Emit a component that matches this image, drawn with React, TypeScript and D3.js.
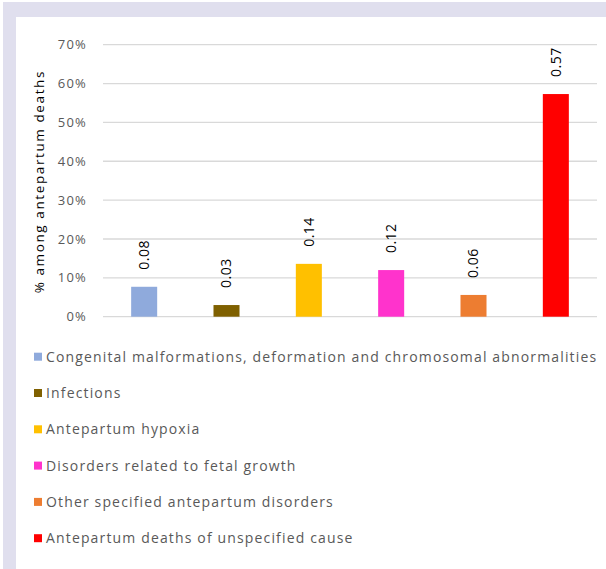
import React from "react";
import * as d3 from "d3";

const categories = [
  "Congenital malformations, deformation and chromosomal abnormalities",
  "Infections",
  "Antepartum hypoxia",
  "Disorders related to fetal growth",
  "Other specified antepartum disorders",
  "Antepartum deaths of unspecified cause",
];
const values = [0.077, 0.03, 0.136, 0.12, 0.056, 0.573];
const colors = ["#8faadc", "#7f6000", "#ffc000", "#ff33cc", "#ed7d31", "#ff0000"];
const yTicks = [0, 0.1, 0.2, 0.3, 0.4, 0.5, 0.6, 0.7];
const yTitle = "% among antepartum deaths";

const W = 606;
const H = 569;
const FONT = "'Open Sans', 'DejaVu Sans', sans-serif";

export default function App() {
  const x = d3
    .scaleBand<string>()
    .domain(categories)
    .range([103, 597])
    .paddingInner(0.684)
    .paddingOuter(0.342);
  const y = d3.scaleLinear().domain([0, 0.7]).range([316.7, 44.7]);
  const pct = d3.format(".0%");
  const lab = d3.format(".2f");

  return (
    <svg
      width={W}
      height={H}
      style={{ position: "absolute", left: 0, top: 0, background: "#fff" }}
      fontFamily={FONT}
    >
      <rect x={3} y={2} width={W - 3} height={15} fill="#e0dfee" />
      <rect x={3} y={2} width={13} height={H - 2} fill="#e0dfee" />

      {yTicks.map((t) => (
        <g key={t}>
          <line x1={103} x2={597} y1={y(t)} y2={y(t)} stroke="#d9d9d9" strokeWidth={1.3} />
          <text
            x={87}
            y={y(t)}
            dy="0.35em"
            textAnchor="end"
            fontSize={13}
            fill="#595959"
            letterSpacing={1.2}
          >
            {pct(t)}
          </text>
        </g>
      ))}

      <text
        transform={`translate(44,${y(0.35) + 1}) rotate(-90)`}
        textAnchor="middle"
        fontSize={13.5}
        fill="#000"
        letterSpacing={1.6}
      >
        {yTitle}
      </text>

      {categories.map((c, i) => {
        const cx = (x(c) as number) + x.bandwidth() / 2;
        const top = y(values[i]);
        return (
          <g key={c}>
            <rect
              x={x(c)}
              y={top}
              width={x.bandwidth()}
              height={y(0) - top}
              fill={colors[i]}
            />
            <text
              transform={`translate(${cx},${top - 17}) rotate(-90)`}
              dy="0.35em"
              textAnchor="start"
              fontSize={14}
              fill="#000"
              letterSpacing={0.5}
            >
              {lab(values[i])}
            </text>
          </g>
        );
      })}

      {categories.map((c, i) => {
        const ry = 356.7 + i * 36.3;
        return (
          <g key={"lg" + c}>
            <rect x={34} y={ry - 4} width={8} height={8} fill={colors[i]} />
            <text
              x={46}
              y={ry}
              dy="0.35em"
              fontSize={14}
              fill="#595959"
              letterSpacing={1.15}
            >
              {c}
            </text>
          </g>
        );
      })}
    </svg>
  );
}
